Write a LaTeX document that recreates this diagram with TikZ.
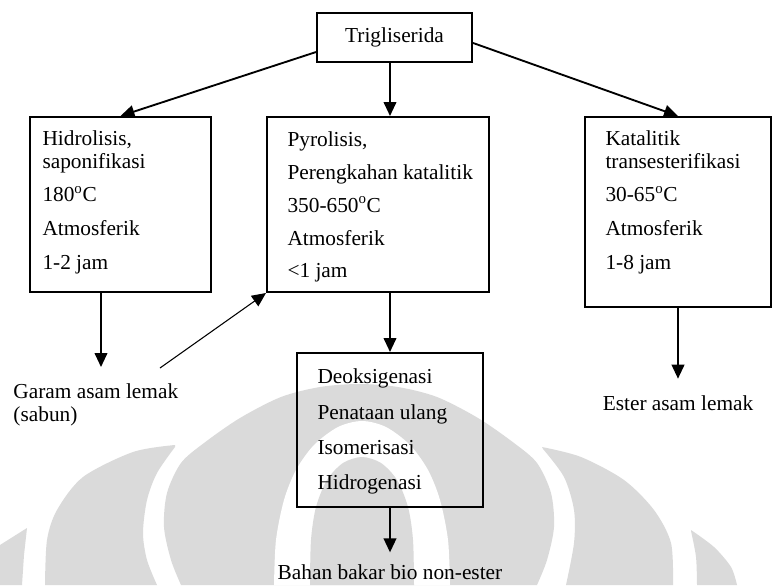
\documentclass[tikz,border=0pt]{standalone}
\usepackage{fontspec}
\setmainfont{Liberation Serif}
\usetikzlibrary{arrows.meta,fit}

\tikzset{every picture/.style={line width=0.75pt}}
\definecolor{wmgray}{RGB}{218,218,218}

\begin{document}
\begin{tikzpicture}[x=0.75pt,y=0.75pt,yscale=-1,xscale=1,
	box/.style={draw,line width=1.5pt,inner sep=0pt},
	txt/.style={inner sep=0pt,font=\fontsize{16}{17.25}\selectfont,align=left},
	arr/.style={line width=1.4pt,-{Triangle[length=10.5pt,width=9.5pt]}},
	thinarr/.style={line width=0.8pt,-{Triangle[length=10.5pt,width=9.5pt]}},
	wm/.style={fill=wmgray}]
	\useasboundingbox (0,0) rectangle (774,585);

	%Shape: Watermark outer dome
	\fill[wm] plot[smooth] coordinates {(181,585) (171,560) (164,527) (167,493) (181,463) (204,443) (240,418) (281,397) (320,387) (359,384) (398,387) (437,397) (478,418) (514,443) (537,463) (551,493) (554,527) (547,560) (537,585)} -- cycle;
	%Shape: Watermark white arch
	\fill[white] plot[smooth] coordinates {(274,585) (276,540) (284,500) (296,470) (314,445) (338,427) (362,421) (386,427) (410,445) (428,470) (440,500) (448,540) (450,585)} -- cycle;
	%Shape: Watermark inner dome
	\fill[wm] plot[smooth] coordinates {(310,585) (311,540) (316,507) (327,480) (343,463) (362,457) (381,463) (397,480) (408,507) (413,540) (414,585)} -- cycle;
	%Shape: Watermark horns
	\fill[wm] plot[smooth] coordinates {(45,585) (47,540) (57,510) (83,477) (133,452) (175,445)} -- plot[smooth] coordinates {(175,447) (157,473) (147,500) (143,533) (147,560) (157,585)} -- cycle;
	\fill[wm] plot[smooth] coordinates {(673,585) (671,543) (654,510) (624,480) (581,457) (542,447)} -- plot[smooth] coordinates {(543,449) (564,477) (574,510) (574,543) (566,585)} -- cycle;
	\fill[wm] (0,545) -- (27,528) -- (24,555) -- (22,585) -- (0,585) -- cycle;
	\fill[wm] plot[smooth] coordinates {(691,530) (714,547) (731,567) (737,585)} -- plot[smooth] coordinates {(697,585) (696,557) (691,531)} -- cycle;

	%Shape: Rectangle
	\node[box,minimum width=116.25pt,minimum height=36.75pt,font=\fontsize{16}{17.25}\selectfont] (trig) at (394.5,37.5) {Trigliserida};
	%Shape: Rectangle
	\node[box,fit={(30,117) (211,292)}] (hidro) {};
	%Shape: Rectangle
	\node[box,fit={(267,117) (489,292)}] (pyro) {};
	%Shape: Rectangle
	\node[box,fit={(585,117) (771,307)}] (trans) {};
	%Shape: Rectangle
	\node[box,fit={(297,353) (483,507)}] (oksi) {};

	% Text Node
	\node[txt,anchor=north west] (hidrotxt) at (42,130) {Hidrolisis,\\ saponifikasi\\[8pt] 180\textsuperscript{o}C\\[8pt] Atmosferik\\[8pt] 1-2 jam};
	% Text Node
	\node[txt,anchor=north west] (pyrotxt) at (287,131.5) {Pyrolisis,\\[7.3pt] Perengkahan katalitik\\[7.3pt] 350-650\textsuperscript{o}C\\[7.3pt] Atmosferik\\[7.3pt] <1 jam};
	% Text Node
	\node[txt,anchor=north west] (transtxt) at (605,130) {Katalitik\\ transesterifikasi\\[8pt] 30-65\textsuperscript{o}C\\[8pt] Atmosferik\\[8pt] 1-8 jam};
	% Text Node
	\node[txt,anchor=north west] (oksitxt) at (317,368.5) {Deoksigenasi\\[9.2pt] Penataan ulang\\[9.2pt] Isomerisasi\\[9.2pt] Hidrogenasi};
	% Text Node
	\node[txt,anchor=north west] (garam) at (13,383) {Garam asam lemak\\ (sabun)};
	% Text Node
	\node[txt,anchor=base] (ester) at (678,410) {Ester asam lemak};
	% Text Node
	\node[txt,anchor=base] (bahan) at (390,579) {Bahan bakar bio non-ester};

	\coordinate (garamtip) at (101,367);
	\coordinate (sabunend) at (160,368);

	%Straight Lines
	\draw[arr] ([yshift=10.9pt]trig.west) -- (hidro.north);
	%Straight Lines
	\draw[arr] (trig.south -| oksi.north) -- (pyro.north -| oksi.north);
	%Straight Lines
	\draw[arr] ([yshift=4.1pt]trig.east) -- (trans.north);
	%Straight Lines
	\draw[arr] (hidro.south -| garamtip) -- (garamtip);
	%Straight Lines
	\draw[thinarr] (sabunend) -- (pyro.south west);
	%Straight Lines
	\draw[arr] (pyro.south -| oksi.north) -- (oksi.north);
	%Straight Lines
	\draw[arr] (trans.south) -- ([yshift=-12pt]ester.north);
	%Straight Lines
	\draw[arr] (oksi.south) -- ([yshift=-8.5pt]bahan.north);

\end{tikzpicture}
\end{document}
